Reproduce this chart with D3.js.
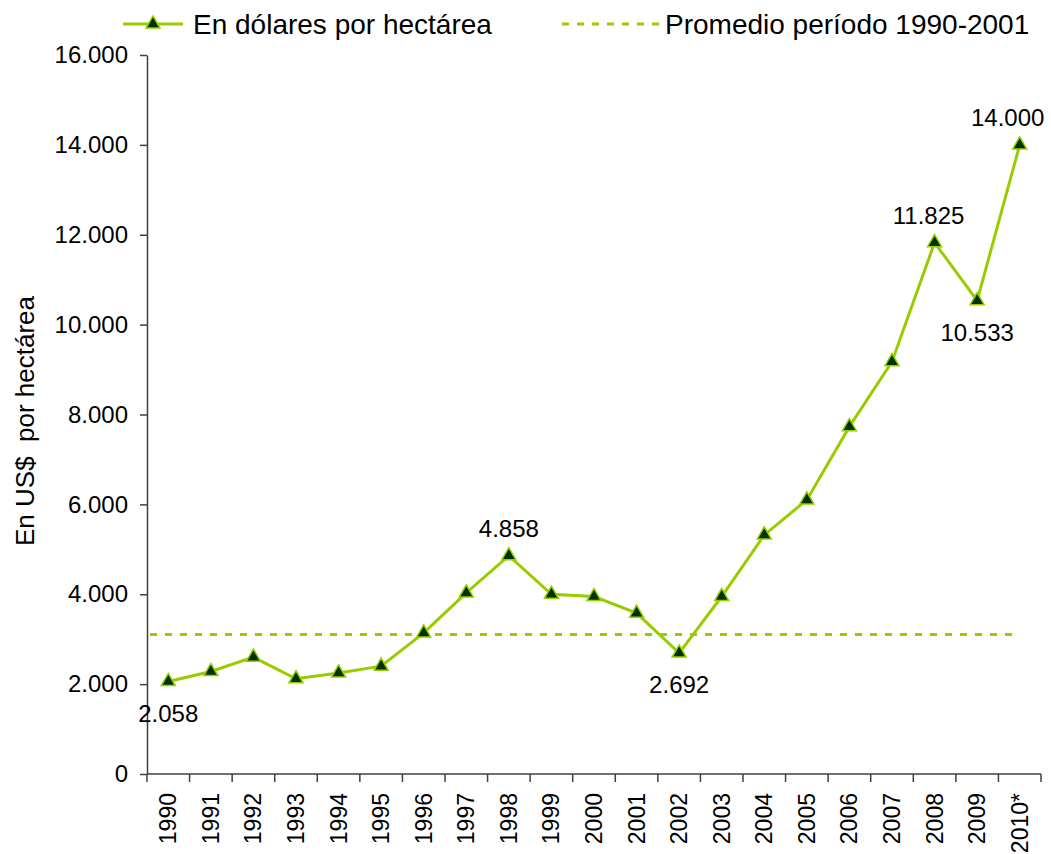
<!DOCTYPE html>
<html>
<head>
<meta charset="utf-8">
<script src="https://cdn.jsdelivr.net/npm/d3@7"></script>
<style>
  body { margin: 0; background: #fff; }
  text { font-family: "Liberation Sans", Arial, sans-serif; fill: #000; }
</style>
</head>
<body>
<div id="chart"></div>
<script>
var years = ["1990", "1991", "1992", "1993", "1994", "1995", "1996", "1997", "1998", "1999",
             "2000", "2001", "2002", "2003", "2004", "2005", "2006", "2007", "2008", "2009", "2010*"];
var values = [2058, 2280, 2600, 2120, 2250, 2400, 3140, 4030, 4858, 4000,
              3950, 3580, 2692, 3950, 5320, 6100, 7730, 9175, 11825, 10533, 14000];
var average = 3106; // promedio 1990-2001
var yTicks = [0, 2000, 4000, 6000, 8000, 10000, 12000, 14000, 16000];
// which points carry a value label, and on which side
var labelled = [
  { i: 0, side: "below", dx: 0 },
  { i: 8, side: "above", dx: 0 },
  { i: 12, side: "below", dx: 0 },
  { i: 18, side: "above", dx: -6 },
  { i: 19, side: "below", dx: 0 },
  { i: 20, side: "above", dx: -12 }
];

var w = 1051,
    h = 854,
    m = [55, 10, 80, 147]; // top right bottom left

var green = "#99cc00",
    dark = "#003300";

var fmt = d3.formatLocale({ decimal: ",", thousands: ".", grouping: [3], currency: ["", ""] }).format(",d");

var x = d3.scaleBand().domain(years).range([m[3], 1041]);
var y = d3.scaleLinear().domain([0, 16000]).range([774, m[0]]);

var svg = d3.select("#chart").append("svg")
    .attr("width", w)
    .attr("height", h);

// y axis
var yAxis = svg.append("g")
    .attr("transform", "translate(" + m[3] + ",0)")
    .call(d3.axisLeft(y).tickValues(yTicks).tickFormat(fmt).tickSize(7).tickSizeOuter(0).tickPadding(12));
yAxis.selectAll("text").style("font-size", "24px").attr("font-family", null);
yAxis.selectAll("line, path").attr("stroke", "#404040").attr("stroke-width", 1.5);

// x axis: labels at band centres, ticks at band boundaries
var xAxis = svg.append("g")
    .attr("transform", "translate(0," + y(0) + ")");
xAxis.append("line")
    .attr("x1", m[3]).attr("x2", x.range()[1])
    .attr("stroke", "#404040").attr("stroke-width", 1.5);
xAxis.selectAll("line.tick")
    .data(years.map(function(d) { return x(d); }).concat([x.range()[1]]))
  .enter().append("line")
    .attr("class", "tick")
    .attr("x1", function(d) { return d; })
    .attr("x2", function(d) { return d; })
    .attr("y1", 0).attr("y2", 8)
    .attr("stroke", "#404040").attr("stroke-width", 1.5);
xAxis.selectAll("text")
    .data(years)
  .enter().append("text")
    .attr("transform", function(d) { return "translate(" + (x(d) + x.bandwidth() / 2) + ",19) rotate(-90)"; })
    .attr("text-anchor", "end")
    .attr("dy", "0.35em")
    .style("font-size", "23px")
    .text(function(d) { return d; });

// y title
svg.append("text")
    .attr("transform", "translate(34,421) rotate(-90)")
    .attr("text-anchor", "middle")
    .style("font-size", "26px")
    .style("white-space", "pre")
    .text("En US$  por hectárea");

// average line
svg.append("line")
    .attr("x1", m[3] + 3)
    .attr("x2", x(years[years.length - 1]) + x.bandwidth() / 2)
    .attr("y1", y(average)).attr("y2", y(average))
    .attr("stroke", green).attr("stroke-width", 3)
    .attr("stroke-dasharray", "7,8");

// series
var cx = function(d, i) { return x(years[i]) + x.bandwidth() / 2; };
var line = d3.line()
    .x(cx)
    .y(function(d) { return y(d); });

svg.append("path")
    .datum(values)
    .attr("d", line)
    .attr("fill", "none")
    .attr("stroke", green)
    .attr("stroke-width", 3);

var tri = d3.symbol().type(d3.symbolTriangle).size(85);
svg.selectAll("path.marker")
    .data(values)
  .enter().append("path")
    .attr("class", "marker")
    .attr("d", tri)
    .attr("transform", function(d, i) { return "translate(" + cx(d, i) + "," + y(d) + ")"; })
    .attr("fill", dark)
    .attr("stroke", green)
    .attr("stroke-width", 1.5);

svg.selectAll("text.value")
    .data(labelled)
  .enter().append("text")
    .attr("class", "value")
    .attr("x", function(d) { return cx(null, d.i) + d.dx; })
    .attr("y", function(d) { return y(values[d.i]) + (d.side == "above" ? -19 : 40); })
    .attr("text-anchor", "middle")
    .style("font-size", "24px")
    .text(function(d) { return fmt(values[d.i]); });

// legend
var lg = svg.append("g").attr("transform", "translate(0,24)");
lg.append("line")
    .attr("x1", 123).attr("x2", 183)
    .attr("stroke", green).attr("stroke-width", 3);
lg.append("path")
    .attr("d", tri)
    .attr("transform", "translate(153,0)")
    .attr("fill", dark).attr("stroke", green).attr("stroke-width", 1.5);
lg.append("text")
    .attr("x", 193).attr("y", 10)
    .style("font-size", "28px")
    .text("En dólares por hectárea");
lg.append("line")
    .attr("x1", 562).attr("x2", 660)
    .attr("stroke", green).attr("stroke-width", 3)
    .attr("stroke-dasharray", "7,8");
lg.append("text")
    .attr("x", 665).attr("y", 10)
    .style("font-size", "28px")
    .text("Promedio período 1990-2001");
</script>
</body>
</html>
